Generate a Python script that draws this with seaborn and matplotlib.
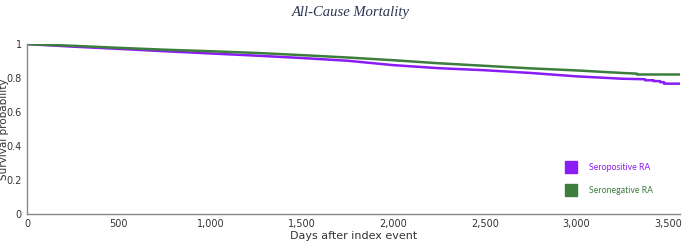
import pandas as pd
import matplotlib.pyplot as plt
import seaborn as sns
from matplotlib.lines import Line2D

sns.set_style("white")

# Kaplan-Meier style estimates
days_pos = [0, 250, 500, 750, 1000, 1250, 1500, 1750, 2000, 2250, 2500, 2750,
            3000, 3250, 3375, 3375, 3420, 3420, 3456, 3456, 3478, 3478, 3565]
surv_pos = [1.0, 0.985, 0.972, 0.958, 0.945, 0.932, 0.918, 0.902, 0.876, 0.858,
            0.846, 0.830, 0.810, 0.796, 0.793, 0.787, 0.787, 0.782, 0.782, 0.776,
            0.776, 0.767, 0.767]

days_neg = [0, 250, 500, 750, 1000, 1250, 1500, 1750, 2000, 2250, 2500, 2750,
            3000, 3250, 3330, 3330, 3565]
surv_neg = [1.0, 0.990, 0.978, 0.967, 0.958, 0.948, 0.935, 0.921, 0.905, 0.887,
            0.872, 0.857, 0.845, 0.830, 0.826, 0.821, 0.821]

groups = ['Seropositive RA', 'Seronegative RA']
colors = ['#8a1cf5', '#3d7d3d']

df = pd.concat([
    pd.DataFrame({'days': days_pos, 'surv': surv_pos, 'group': groups[0]}),
    pd.DataFrame({'days': days_neg, 'surv': surv_neg, 'group': groups[1]}),
])

fig = plt.figure(figsize=(6.82, 2.45), dpi=100)
ax = fig.add_axes([0.040, 0.127, 0.957, 0.693])

sns.lineplot(data=df, x='days', y='surv', hue='group', palette=colors,
             hue_order=groups, sort=False, estimator=None, linewidth=1.8,
             legend=False, ax=ax)

ax.set_xlim(0, 3565)
ax.set_ylim(0, 1)
ax.set_xticks(range(0, 3501, 500))
ax.set_xticklabels([f'{v:,}' for v in range(0, 3501, 500)])
ax.set_yticks([0, 0.2, 0.4, 0.6, 0.8, 1])
ax.set_yticklabels(['0', '0.2', '0.4', '0.6', '0.8', '1'])
ax.tick_params(axis='both', direction='out', length=3, width=0.8,
               color='#888888', labelsize=7, labelcolor='#333333', pad=1)
for s in ['top', 'right']:
    ax.spines[s].set_visible(False)
for s in ['left', 'bottom']:
    ax.spines[s].set_color('#888888')
    ax.spines[s].set_linewidth(1.0)

ax.set_xlabel('Days after index event', fontsize=8, color='#333333', labelpad=1)
ax.set_ylabel('Survival probability', fontsize=7.5, color='#333333')
ax.yaxis.set_label_coords(-0.028, 0.5)

fig.text(0.515, 0.95, 'All-Cause Mortality', ha='center', va='center',
         fontsize=10.5, style='italic', family='Liberation Serif', color='#2b3550')

handles = [Line2D([], [], marker='s', linestyle='none', markersize=8,
                  color=c) for c in colors]
leg = ax.legend(handles, groups, loc='upper left', bbox_to_anchor=(0.808, 0.345),
                frameon=False, labelcolor=colors,
                handletextpad=1.0, labelspacing=1.55,
                prop={'family': 'Lato', 'size': 6.3})

fig.savefig('out.png', dpi=100)
